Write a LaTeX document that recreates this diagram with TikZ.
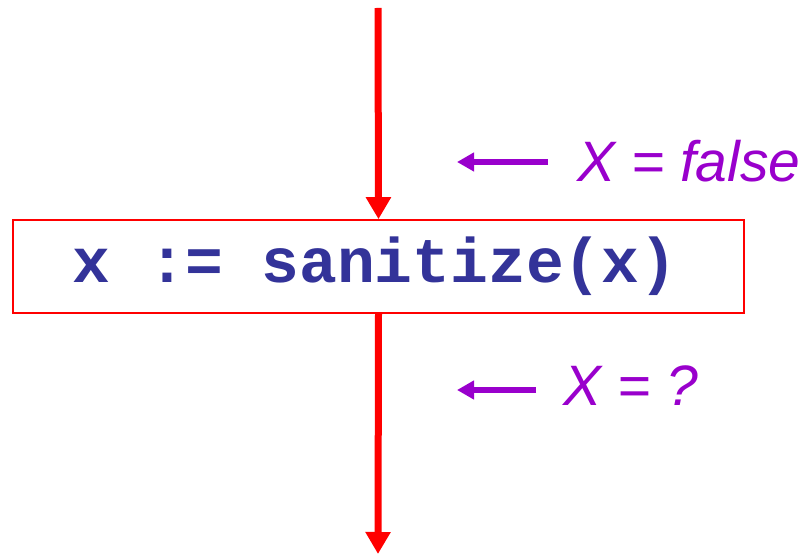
\documentclass[tikz,border=0pt]{standalone}
\usepackage{fontspec}
\setmainfont{Liberation Sans}
\setmonofont{Liberation Mono}
\usetikzlibrary{arrows.meta}
\definecolor{codeblue}{HTML}{333399}
\definecolor{labpurple}{HTML}{9900CC}
\tikzset{
  flow/.style={draw=red, line width=7pt, -{Triangle[length=22pt,width=24pt]}},
  note/.style={draw=labpurple, line width=5.5pt, -{Triangle[length=17pt,width=18pt]}},
  stmt/.style={draw=red, line width=1.6pt, fill=white, minimum width=731pt, minimum height=93pt, inner sep=0pt},
  lab/.style={text=labpurple, font=\fontsize{57}{57}\selectfont\itshape, inner sep=0pt, anchor=base west}
}
\begin{document}
\begin{tikzpicture}[x=1pt,y=1pt]
\useasboundingbox (0,0) rectangle (804,555);
\node[stmt] (box) at (378.5,288.5) {};
\node[text=codeblue, font=\fontsize{63}{63}\selectfont\ttfamily\bfseries, inner sep=0pt, anchor=base] (code) at (375,272) {x := sanitize(x)};
\coordinate (top) at (378,547);
\coordinate (bot) at (378,1);
\draw[flow] (top) -- (box.north);
\draw[flow] (box.south) -- (bot);
\node[lab] (l1) at (577,373) {X = false};
\node[lab] (l2) at (563,149) {X = ?};
\coordinate (a1s) at (548,393);
\coordinate (a1e) at (457,393);
\coordinate (a2s) at (536,165);
\coordinate (a2e) at (457,165);
\draw[note] (a1s) -- (a1e);
\draw[note] (a2s) -- (a2e);
\end{tikzpicture}
\end{document}
